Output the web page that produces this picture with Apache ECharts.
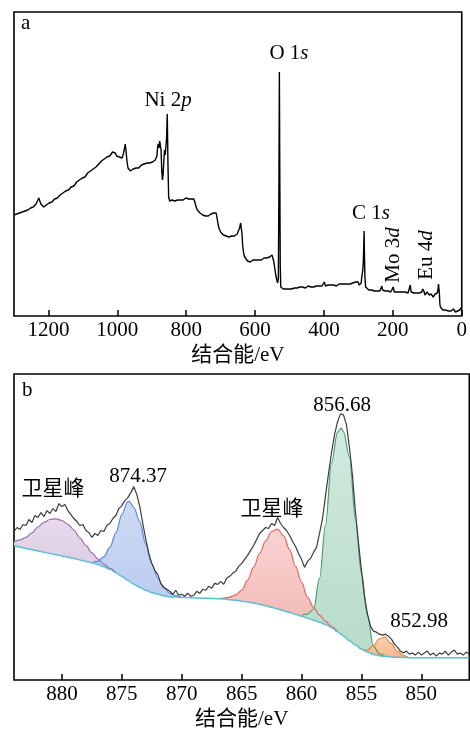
<!DOCTYPE html>
<html>
<head>
<meta charset="utf-8">
<script src="https://cdn.jsdelivr.net/npm/echarts@6/dist/echarts.min.js"></script>
<style>
  html, body { margin: 0; padding: 0; background: #fff; }
  #chart { width: 470px; height: 731px; }
</style>
</head>
<body>
<div id="chart"></div>
<script>
// ---------- (a) XPS survey spectrum: [binding energy / eV, intensity (a.u.)] ----------
const survey = [
  [1300,101],[1296,103],[1292,102],[1288,104],[1284,103],[1280,105],[1276,104],[1272,106],[1268,105],[1264,107],
  [1260,106],[1256,108],[1252,108],[1248,110],[1244,109],[1240,111],[1236,112],[1232,114],[1228,118],[1225,116],
  [1222,112],[1218,111],[1214,109],[1210,110],[1206,111],[1202,112],[1198,113],[1194,115],[1190,114],[1186,116],
  [1182,117],[1178,118],[1174,118],[1170,120],[1166,121],[1162,121],[1158,123],[1154,124],[1150,125],[1146,126],
  [1142,126],[1138,128],[1134,129],[1130,131],[1126,130],[1122,132],[1118,134],[1114,134],[1110,136],[1106,137],
  [1102,138],[1098,140],[1094,139],[1090,141],[1086,143],[1082,143],[1078,145],[1074,146],[1070,147],[1066,149],
  [1062,149],[1058,151],[1054,152],[1050,153],[1046,155],[1042,155],[1038,157],[1034,158],[1030,159],[1026,161],
  [1022,160],[1018,162],[1014,164],[1010,162],[1006,163],[1002,160],[998,161],[994,159],[990,160],[986,158],
  [982,163],[979,168],[977,172],[975,166],[972,155],[969,148],[966,146],[962,145],[958,146],[954,147],
  [950,146],[946,148],[942,149],[938,148],[934,150],[930,151],[926,150],[922,152],[918,151],[914,153],
  [910,154],[906,153],[902,155],[898,154],[894,156],[890,156],[887,157],[885,160],[883,169],[881,172],
  [879,168],[877,175],[875,177],[873,166],[871,145],[869,136],[867,142],[865,155],[863,166],[861,161],
  [859,163],[857,178],[855,202],[853,152],[851,119],[848,115],[845,114],[841,116],[837,117],[833,115],
  [829,117],[825,116],[821,117],[817,116],[813,118],[809,116],[805,117],[801,118],[797,116],[793,117],
  [789,118],[785,117],[781,118],[778,117],[775,114],[772,110],[768,106],[764,104],[760,103],[756,102],
  [752,101],[748,102],[744,100],[740,101],[736,100],[732,101],[728,102],[724,101],[720,103],[716,104],
  [713,103],[710,97],[707,91],[704,87],[700,84],[696,82],[692,81],[688,82],[684,80],[680,81],
  [676,79],[672,81],[668,80],[664,81],[660,80],[656,81],[652,82],[648,84],[645,88],[642,93],
  [640,91],[638,82],[636,70],[633,62],[630,59],[626,57],[622,55],[618,55],[614,54],[610,55],
  [606,56],[602,55],[598,56],[594,57],[590,56],[586,57],[582,56],[578,57],[574,58],[570,57],
  [566,58],[562,58],[558,59],[554,60],[551,61],[549,59],[546,55],[543,48],[540,41],[537,36],
  [534.5,33],[532.5,38],[531,120],[529.5,244],[528.5,160],[527,50],[525.5,29],[522,28],[518,27],[514,28],
  [510,27],[506,28],[502,27],[498,28],[494,27],[490,28],[486,28],[482,29],[478,28],[474,28],
  [470,29],[466,28],[462,29],[458,29],[454,28],[450,29],[446,30],[442,29],[438,29],[434,30],
  [430,29],[426,30],[422,30],[418,29],[414,30],[410,30],[406,30],[402,31],[399,34],[396,30],
  [392,30],[388,31],[384,30],[380,31],[376,30],[372,31],[368,31],[364,30],[360,31],[356,32],
  [352,31],[348,32],[344,31],[340,32],[336,32],[332,32],[328,33],[324,32],[320,33],[316,33],
  [312,34],[308,34],[304,35],[301,34],[298,31],[295,30],[292,33],[290,40],[288,44],[286,52],
  [284.5,70],[283.5,85],[282.5,60],[281,38],[279,29],[277,27],[274,27],[270,26],[266,27],[262,26],
  [258,26],[254,25],[250,26],[246,25],[242,26],[238,25],[234,26],[232,30],[230,26],[226,25],
  [222,25],[218,26],[214,25],[210,25],[206,24],[202,25],[199,29],[196,24],[192,24],[188,24],
  [184,23],[180,24],[176,23],[172,24],[168,23],[164,24],[160,23],[156,23],[152,24],[149.5,31],
  [147,24],[143,23],[139,23],[135,22],[131,23],[127,22],[123,23],[119,22],[116,24],[113,27],
  [111,28],[109,24],[107,21],[105,20],[102,22],[100,24],[98,22],[95,21],[92,23],[89,22],
  [86,20],[83,19],[80,21],[77,22],[74,23],[71,23],[69,26],[67.5,32],[66.5,33],[65,23],
  [63.5,12],[62,9],[59,7],[55,6],[51,6],[47,6],[43,6],[39,5],[35,5],[31,5],
  [27,6],[24,7],[22.5,9],[21,6],[18,4],[15,5],[12,5],[9,5],[6,6],[3,7],[1,8],[0,9]
];
const surveyTicks = [0, 200, 400, 600, 800, 1000, 1200];

// ---------- (b) Ni 2p high-resolution spectrum ----------
// measured counts, sampled every 0.25 eV from 884 eV down to 846 eV
const niRawStart = 884;
const niRawStep = 0.25;
const niRaw = [
  149,153,151,156,155,161,158,165,163,168,164,170,167,172,169,177,174,176,170,166,
  162,159,155,156,150,148,143,147,145,150,149,155,157,162,165,172,175,180,183,188,
  194,186,174,157,141,127,117,110,106,97,93,91,89,86,90,85,86,84,87,84,
  85,89,87,91,90,94,92,97,96,99,96,102,104,107,109,114,117,121,125,130,
  135,141,147,150,153,152,157,155,163,157,153,150,145,139,134,127,121,113,119,122,
  128,133,147,162,185,207,228,246,259,267,266,256,233,205,168,138,110,84,66,54,
  49,48,46,45,46,44,41,36,33,29,27,29,26,27,25,28,25,27,29,25,
  27,24,27,26,29,25,28,30,26,27,25,28,26
];

// Shirley background: energies and values
const bgEnergy = [
  884,883.5,883,882.5,882,881.5,881,880.5,880,879.5,879,878.5,878,877.5,877,876.5,876,875.5,875,874.5,
  874.37,874,873.5,873,872.5,872,871.5,871,870.5,870,869.5,869,868.5,868,867.5,867,866.5,866,865.5,865,
  864.5,864,863.5,863,862.5,862,861.5,861,860.5,860,859.5,859,858.5,858,857.5,857,856.68,856.5,856,855.5,
  855,854.5,854,853.5,853,852.98,852.5,852,851.5,851,850.5,850,849.5,849,848.5,848,847.5,847,846.5,846
];
const bgValue = [
  135,133.5,132,130.7,129.5,128.2,127,125.7,124.5,123.2,122,120.5,119,117.6,116,113.7,111,107.7,104,100,
  99,96,92.8,90,87.8,86,84.6,83.5,83.2,83,82.7,82.5,82.2,82,81.8,81.6,81.2,80.6,79.9,79.1,
  78.2,77.2,76,74.6,73,71.3,69.6,67.8,65.9,64,62,60,58,55.8,52.5,48.5,45.6,44,39.5,35,
  31,28,25.7,24.3,23.5,23.5,23,22.7,22.5,22.4,22.3,22.3,22.2,22.2,22.2,22.2,22.2,22.2,22.2,22.2
];

// fitted components: first background index and heights above the background
const satHighStart = 0;
const satHigh = [3.5,7,11,17,24,30,34,36,35.5,33,28.5,22,16,10,5.5,2.5,1,0];
const p12Start = 13;
const p12 = [0,3,10,22,40,62,79,80,77,66,46,29,16,8,3.5,1.2,0];
const satLowStart = 35;
const satLow = [0,1,2.5,5.5,11,22,36,51,65,76,80,75,63,48,34,21,13,7,3,1.2,0];
const p32Start = 49;
const p32 = [1,4,11,44,100,165,200,207,205,184,126,76,37,8,2,0];
const metalStart = 60;
const metal = [0,2,9,17,19.8,20,13.5,6,2,0];

const peakCenters = [874.37, 856.68, 852.98];
const niTicks = [850, 855, 860, 865, 870, 875, 880];

// ---------- drawing ----------
const FONT = '"Liberation Serif", "Times New Roman", "Noto Sans CJK SC", serif';
const chart = echarts.init(document.getElementById('chart'));

// rows are [intensity, energy] so that the intensity column is the one stacked
function slicePairs(start, heights) {
  const base = [], top = [];
  heights.forEach((h, k) => {
    base.push([bgValue[start + k], bgEnergy[start + k]]);
    top.push([h, bgEnergy[start + k]]);
  });
  return { base, top };
}

function componentSeries(id, start, heights, line, c1, c2) {
  const p = slicePairs(start, heights);
  const common = { type: 'line', xAxisIndex: 1, yAxisIndex: 1, stack: id, showSymbol: false,
    silent: true, smooth: 0.35, smoothMonotone: 'x',
    dimensions: ['intensity', 'energy'], encode: { x: 'energy', y: 'intensity' } };
  return [
    Object.assign({}, common, { name: id + '-bg', data: p.base, lineStyle: { width: 0, opacity: 0 } }),
    Object.assign({}, common, {
      name: id, data: p.top,
      lineStyle: { color: line, width: 1.2 },
      areaStyle: { opacity: 1, color: new echarts.graphic.LinearGradient(0, 0, 0, 1, [
        { offset: 0, color: c1 }, { offset: 1, color: c2 }]) }
    })
  ];
}

const rawData = niRaw.map((v, i) => [niRawStart - i * niRawStep, v]);
const bgData = bgEnergy.map((e, i) => [e, bgValue[i]]);

const axisCommon = {
  type: 'value', inverse: true,
  axisLine: { show: false },
  axisTick: { show: true, inside: true, length: 6, lineStyle: { color: '#000', width: 1.5 } },
  axisLabel: { color: '#000', fontFamily: FONT, fontSize: 21, margin: 4, formatter: v => String(v) },
  splitLine: { show: false },
  name: '结合能/eV', nameLocation: 'middle', nameGap: 29,
  nameTextStyle: { color: '#000', fontFamily: FONT, fontSize: 21 }
};

function txt(x, y, text, extra) {
  return Object.assign({
    type: 'text', x: x, y: y, z: 100,
    style: Object.assign({ text: text, fill: '#000', font: '21px ' + FONT, align: 'center', verticalAlign: 'middle' },
      extra && extra.style || {})
  }, extra && extra.el || {});
}
const italicRich = {
  r: { fontFamily: FONT, fontSize: 21, color: '#000' },
  i: { fontFamily: FONT, fontSize: 21, fontStyle: 'italic', color: '#000' }
};

const option = {
  animation: false,
  backgroundColor: '#fff',
  grid: [
    { left: 14, right: 0.7, top: 12, height: 304, show: true, borderColor: '#000', borderWidth: 1.6, backgroundColor: 'transparent' },
    { left: 14, right: 0.7, top: 374, height: 307, show: true, borderColor: '#000', borderWidth: 1.6, backgroundColor: 'transparent' }
  ],
  xAxis: [
    Object.assign({}, axisCommon, { gridIndex: 0, min: 0, max: 1300,
      axisTick: Object.assign({}, axisCommon.axisTick, { customValues: surveyTicks }),
      axisLabel: Object.assign({}, axisCommon.axisLabel, { customValues: surveyTicks }) }),
    Object.assign({}, axisCommon, { gridIndex: 1, min: 846, max: 884,
      axisTick: Object.assign({}, axisCommon.axisTick, { customValues: niTicks }),
      axisLabel: Object.assign({}, axisCommon.axisLabel, { customValues: niTicks }) })
  ],
  yAxis: [
    { type: 'value', gridIndex: 0, min: 0, max: 304, show: false },
    { type: 'value', gridIndex: 1, min: 0, max: 307, show: false }
  ],
  series: [
    { type: 'line', name: 'survey', xAxisIndex: 0, yAxisIndex: 0, data: survey, showSymbol: false,
      silent: true, lineStyle: { color: '#000', width: 1.4 } },
    ...componentSeries('sat-2p12', satHighStart, satHigh, '#9a72b0', '#e8dbec', '#dccbe2'),
    ...componentSeries('2p12', p12Start, p12, '#5b86d9', '#cedaf4', '#bccdf0'),
    ...componentSeries('sat-2p32', satLowStart, satLow, '#e5675f', '#f9d5d3', '#f2b8b5'),
    ...componentSeries('2p32', p32Start, p32, '#4e9f6d', '#d0eadf', '#b8dcc9'),
    ...componentSeries('Ni0', metalStart, metal, '#ef8b46', '#f9d2b4', '#f5b78b'),
    { type: 'line', name: 'background', xAxisIndex: 1, yAxisIndex: 1, data: bgData, showSymbol: false,
      silent: true, smooth: 0.35, smoothMonotone: 'x', lineStyle: { color: '#5cbfd2', width: 1.5 } },
    { type: 'line', name: 'measured', xAxisIndex: 1, yAxisIndex: 1, data: rawData, showSymbol: false,
      silent: true, lineStyle: { color: '#3c3c3c', width: 1.2 } }
  ],
  graphic: [
    txt(21, 23, 'a', { style: { align: 'left' } }),
    txt(289, 53, '{r|O 1}{i|s}', { style: { rich: italicRich } }),
    txt(168, 100, '{r|Ni 2}{i|p}', { style: { rich: italicRich } }),
    txt(371, 213, '{r|C 1}{i|s}', { style: { rich: italicRich } }),
    txt(393, 255, '{r|Mo 3}{i|d}', { style: { rich: italicRich }, el: { rotation: Math.PI / 2 } }),
    txt(426, 255, '{r|Eu 4}{i|d}', { style: { rich: italicRich }, el: { rotation: Math.PI / 2 } }),
    txt(22, 390, 'b', { style: { align: 'left' } }),
    txt(138, 476, peakCenters[0].toFixed(2)),
    txt(342, 405, peakCenters[1].toFixed(2)),
    txt(419, 621, peakCenters[2].toFixed(2)),
    txt(53, 489, '卫星峰'),
    txt(272, 509, '卫星峰')
  ]
};
chart.setOption(option);
</script>
</body>
</html>
